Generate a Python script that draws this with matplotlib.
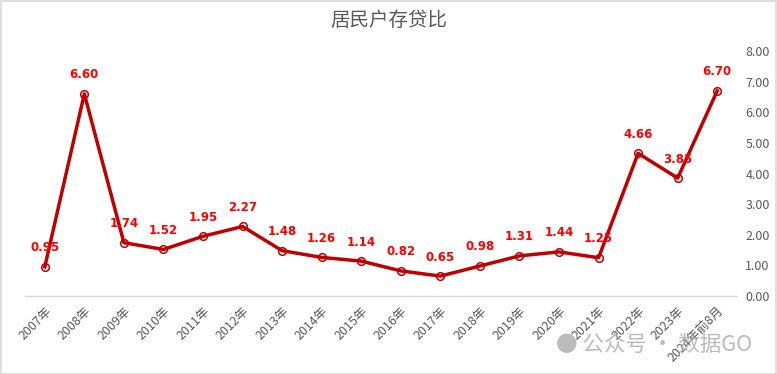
import matplotlib.pyplot as plt
from matplotlib.patches import Rectangle

plt.rcParams['font.family'] = ['Noto Sans CJK SC', 'DejaVu Sans']

# 數據
years = ['2007年', '2008年', '2009年', '2010年', '2011年', '2012年', '2013年', '2014年', '2015年',
         '2016年', '2017年', '2018年', '2019年', '2020年', '2021年', '2022年', '2023年', '2024年前8月']
ratio = [0.95, 6.60, 1.74, 1.52, 1.95, 2.27, 1.48, 1.26, 1.14,
         0.82, 0.65, 0.98, 1.31, 1.44, 1.25, 4.66, 3.85, 6.70]
y_ticks = [0, 1, 2, 3, 4, 5, 6, 7, 8]

fig = plt.figure(figsize=(7.77, 3.74), dpi=100)
ax = fig.add_axes([25/777, 1 - 296/374, 712/777, (296 - 51)/374])

x = list(range(len(years)))
ax.plot(x, ratio, color='#C00000', linewidth=2.5, marker='o', markersize=5.5,
        markerfacecolor='none', markeredgecolor='#C00000', markeredgewidth=1.1, zorder=3)

for xi, v in zip(x, ratio):
    ax.annotate(f'{v:.2f}', (xi, v), xytext=(0, 9), textcoords='offset points',
                ha='center', va='bottom', color='#FF0000', fontsize=8.5, fontweight='bold',
                family=['DejaVu Sans'])

ax.set_xlim(-0.5, len(years) - 0.5)
ax.set_ylim(0, 8)
ax.set_yticks(y_ticks)
ax.set_yticklabels([f'{t:.2f}' for t in y_ticks])
ax.yaxis.tick_right()
ax.tick_params(axis='y', length=0, pad=6, labelsize=9, labelcolor='#595959')
ax.set_xticks(x)
ax.set_xticklabels(years, rotation=45, ha='right', rotation_mode='anchor')
ax.tick_params(axis='x', length=0, pad=6, labelsize=9, labelcolor='#595959')

for s in ['top', 'left', 'right']:
    ax.spines[s].set_visible(False)
ax.spines['bottom'].set_color('#D9D9D9')
ax.spines['bottom'].set_linewidth(1)

fig.text(0.5, 1 - 20/374, '居民户存贷比', ha='center', va='center', fontsize=14, color='#595959')

# 水印
fig.text(556/777, 1 - 345/374, '● 公众号 · 数据GO', ha='left', va='center', fontsize=15.5,
         color='#AAAAAA', alpha=0.8, zorder=10)

fig.add_artist(Rectangle((0.5/777, 0.5/374), 1 - 1.5/777, 1 - 1.5/374, transform=fig.transFigure,
                         fill=False, edgecolor='#D9D9D9', linewidth=1.2))

fig.savefig('out.png', dpi=100)
